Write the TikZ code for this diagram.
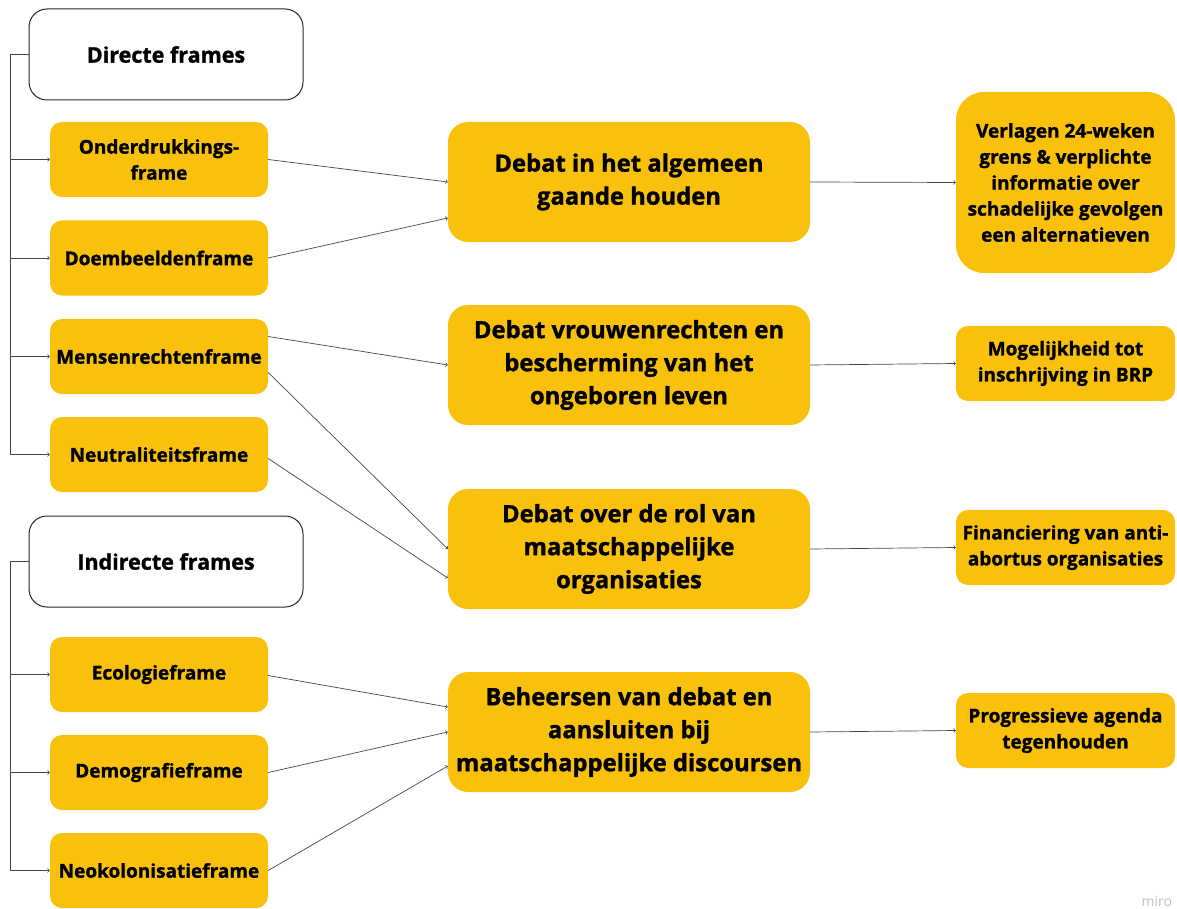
\documentclass[tikz,border=0pt]{standalone}
\usepackage{fontspec}
\setmainfont{Open Sans}[BoldFeatures={FakeBold=1.3}]
\usepackage{tikz}
\usetikzlibrary{arrows,shapes,positioning}
\definecolor{frameyellow}{RGB}{249,193,12}
\definecolor{linegray}{RGB}{70,70,70}
\newcommand{\lw}{0.7pt}
\newcommand{\smallfont}{\fontsize{19}{26}\selectfont\bfseries}
\newcommand{\headfont}{\fontsize{21.5}{26}\selectfont\bfseries}
\newcommand{\bigfont}{\fontsize{23.8}{33}\selectfont\bfseries}

\begin{document}
\begin{tikzpicture}[x=1pt,y=-1pt,
	headbox/.style={draw=black!85, line width=1pt, fill=white, rounded corners=18pt,
		minimum width=274pt, minimum height=91pt, font=\headfont, inner sep=0pt},
	framebox/.style={fill=frameyellow, rounded corners=12pt, align=center,
		minimum width=218pt, minimum height=75pt, font=\smallfont, inner sep=0pt},
	debatebox/.style={fill=frameyellow, rounded corners=20pt, align=center,
		minimum width=362pt, minimum height=120pt, font=\bigfont, inner sep=0pt},
	goalbox/.style={fill=frameyellow, rounded corners=12pt, align=center,
		minimum width=219pt, minimum height=75pt, font=\smallfont, inner sep=0pt},
	link/.style={->, >=to, draw=linegray, line width=\lw}]

	\useasboundingbox (0,0) rectangle (1177,909);

	% left column
	\node[headbox] (dir) at (166,54.5) {Directe frames};
	\node[framebox] (d1) at (159,159.5) {Onderdrukkings-\\frame};
	\node[framebox] (d2) at (159,258) {Doembeeldenframe};
	\node[framebox] (d3) at (159,356.5) {Mensenrechtenframe};
	\node[framebox] (d4) at (159,454.5) {Neutraliteitsframe};
	\node[headbox] (ind) at (166,561.5) {Indirecte frames};
	\node[framebox] (i1) at (159,674.5) {Ecologieframe};
	\node[framebox] (i2) at (159,772.5) {Demografieframe};
	\node[framebox] (i3) at (159,870.5) {Neokolonisatieframe};

	% middle column
	\node[debatebox] (m1) at (629,182) {Debat in het algemeen\\gaande houden};
	\node[debatebox] (m2) at (629,365) {Debat vrouwenrechten en\\bescherming van het\\ongeboren leven};
	\node[debatebox] (m3) at (629,549) {Debat over de rol van\\maatschappelijke\\organisaties};
	\node[debatebox] (m4) at (629,732) {Beheersen van debat en\\aansluiten bij\\maatschappelijke discoursen};

	% right column
	\node[goalbox, rounded corners=28pt, minimum height=181pt] (r1) at (1065.5,182.5)
		{Verlagen 24-weken\\grens \& verplichte\\informatie over\\schadelijke gevolgen\\een alternatieven};
	\node[goalbox] (r2) at (1065.5,363.5) {Mogelijkheid tot\\inschrijving in BRP};
	\node[goalbox] (r3) at (1065.5,547.5) {Financiering van anti-\\abortus organisaties};
	\node[goalbox] (r4) at (1065.5,730.5) {Progressieve agenda\\tegenhouden};

	% brackets
	\coordinate (s1) at (10,54.5);
	\coordinate (s2) at (10,561.5);
	\draw[draw=linegray, line width=\lw] (dir.west) -- (s1) -- (s1 |- d4.west);
	\draw[draw=linegray, line width=\lw] (ind.west) -- (s2) -- (s2 |- i3.west);
	\foreach \n in {d1,d2,d3,d4}
		\draw[link] (s1 |- \n.west) -- (\n.west);
	\foreach \n in {i1,i2,i3}
		\draw[link] (s2 |- \n.west) -- (\n.west);

	% frames to debates
	\draw[link] (d1.east) -- (m1.west);
	\draw[link] (d2.east) -- ([yshift=-36pt]m1.west);
	\draw[link] ([yshift=20pt]d3.east) -- (m2.west);
	\draw[link] ([yshift=-16pt]d3.east) -- (m3.west);
	\draw[link] ([yshift=-4pt]d4.east) -- ([yshift=-29pt]m3.west);
	\draw[link] ([yshift=-1pt]i1.east) -- ([yshift=25pt]m4.west);
	\draw[link] (i2.east) -- (m4.west);
	\draw[link] (i3.east) -- ([yshift=-34pt]m4.west);

	% debates to goals
	\foreach \a/\b in {m1/r1,m2/r2,m3/r3,m4/r4}
		\draw[link] (\a.east) -- (\b.west);

	\node[text=black!25, font=\fontsize{14}{14}\selectfont, anchor=north west] (miro) at (1138,893) {miro};
\end{tikzpicture}
\end{document}
